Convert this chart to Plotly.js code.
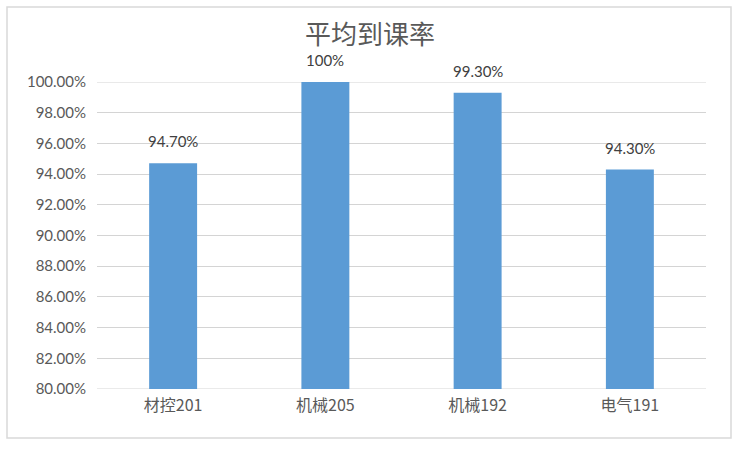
<!DOCTYPE html>
<html><head><meta charset="utf-8">
<script src="https://cdn.plot.ly/plotly-3.0.1.min.js"></script>
<style>html,body{margin:0;padding:0;background:#fff;}#chart{width:740px;height:449px;}</style>
</head><body><div id="chart"></div>
<script>
const categories = ["材控201", "机械205", "机械192", "电气191"];
const rates = [94.7, 100, 99.3, 94.3];
const rateLabels = ["94.70%", "100%", "99.30%", "94.30%"];
const yTickVals = [80, 82, 84, 86, 88, 90, 92, 94, 96, 98, 100];
const yTickText = ["80.00%", "82.00%", "84.00%", "86.00%", "88.00%", "90.00%", "92.00%", "94.00%", "96.00%", "98.00%", "100.00%"];
const axisMin = 80, axisMax = 100;

const fontFam = 'Lato, "Noto Sans CJK SC", sans-serif';
const trace = {
  type: 'bar', x: categories,
  y: rates.map(v => v - axisMin),
  base: axisMin,
  marker: {color: '#5B9BD5'},
  width: 0.315,
  hoverinfo: 'none'
};

const L = 97, R = 34, T = 82, B = 60, W = 740, H = 449;
const pw = W - L - R, ph = H - T - B;
const annotations = categories.map((c, i) => ({
  x: c, y: rates[i], xref: 'x', yref: 'y', text: rateLabels[i], showarrow: false,
  yanchor: 'bottom', yshift: 11,
  font: {family: fontFam, size: 15, color: '#404040'}
}));
const gridCol = '#D4D4D4';
const layout = {
  width: W, height: H,
  margin: {l: L, r: R, t: T, b: B},
  paper_bgcolor: '#fff', plot_bgcolor: '#fff',
  title: {text: '平均到课率', x: 0.5, xref: 'container', xanchor: 'center', y: 1 - 35/H, yref: 'container', yanchor: 'middle',
          font: {family: '"Noto Sans CJK SC", sans-serif', size: 26, color: '#595959'}},
  xaxis: {type: 'category', showgrid: false, zeroline: false, showline: false, ticks: '',
          tickfont: {family: '"Noto Sans CJK SC", Lato, sans-serif', size: 16, color: '#595959'}, ticklabelstandoff: 5},
  yaxis: {range: [axisMin, axisMax], tickvals: yTickVals, ticktext: yTickText,
          showgrid: true, gridcolor: gridCol, gridwidth: 1, zeroline: false, showline: false, ticks: '',
          tickfont: {family: fontFam, size: 15, color: '#595959'}, ticklabelstandoff: 10},
  showlegend: false,
  annotations: annotations,
  shapes: [
    {type: 'rect', xref: 'paper', yref: 'paper',
     x0: (7 - L)/pw, x1: (731 - L)/pw, y0: (H - B - 438)/ph, y1: (H - B - 7)/ph,
     line: {color: '#D9D9D9', width: 1.5}, fillcolor: 'rgba(0,0,0,0)', layer: 'below'},
    {type: 'line', xref: 'paper', yref: 'y', x0: 0, x1: 1, y0: axisMax, y1: axisMax,
     line: {color: gridCol, width: 1}, layer: 'below'},
    {type: 'line', xref: 'paper', yref: 'y', x0: 0, x1: 1, y0: axisMin, y1: axisMin,
     line: {color: gridCol, width: 1}, layer: 'below'}
  ]
};
Plotly.newPlot('chart', [trace], layout, {displayModeBar: false, staticPlot: true});
</script></body></html>
